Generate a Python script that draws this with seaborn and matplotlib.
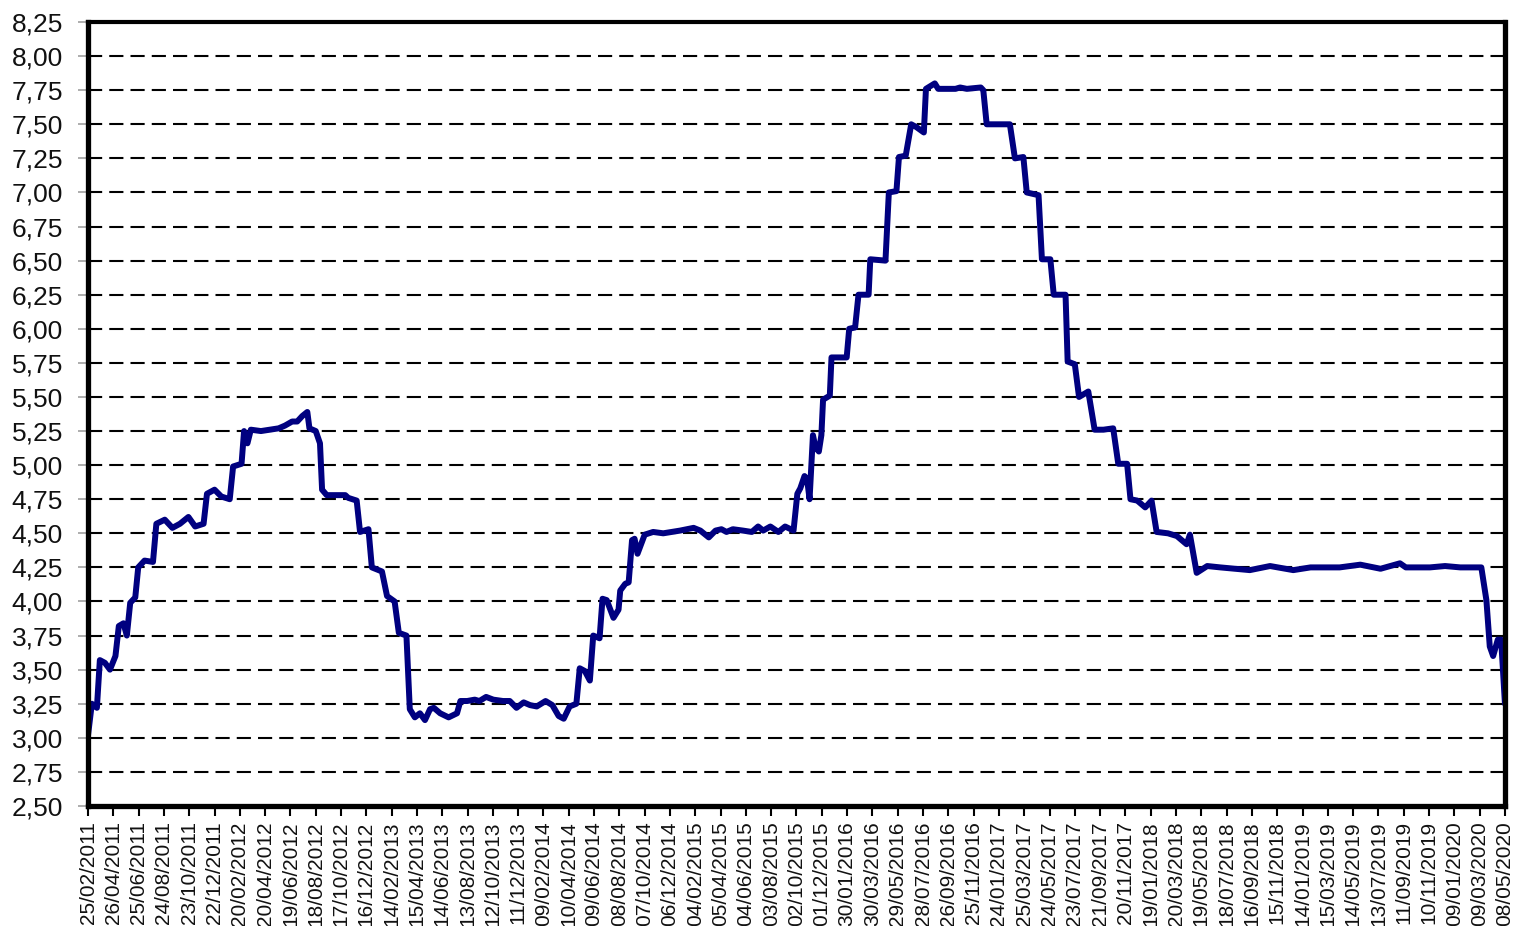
"""Recreate the weekly rate chart, Feb 2011 to May 2020."""

import matplotlib

matplotlib.use("Agg")

import matplotlib.dates as mdates
import matplotlib.pyplot as plt
import pandas as pd
import seaborn as sns
from matplotlib.ticker import FuncFormatter, MultipleLocator

# values
dates = [
    "2011-02-25", "2011-03-06", "2011-03-18", "2011-03-25", "2011-04-06", "2011-04-18",
    "2011-05-01", "2011-05-09", "2011-05-20", "2011-05-28", "2011-06-05", "2011-06-17",
    "2011-06-24", "2011-07-09", "2011-07-29", "2011-08-06", "2011-08-26", "2011-09-13",
    "2011-10-01", "2011-10-21", "2011-11-06", "2011-11-26", "2011-12-04", "2011-12-22",
    "2012-01-07", "2012-01-27", "2012-02-04", "2012-02-24", "2012-03-01", "2012-03-09",
    "2012-03-17", "2012-04-10", "2012-05-22", "2012-06-06", "2012-06-23", "2012-07-05",
    "2012-07-17", "2012-07-29", "2012-08-03", "2012-08-18", "2012-08-28", "2012-09-02",
    "2012-09-13", "2012-10-10", "2012-10-27", "2012-11-03", "2012-11-23", "2012-12-01",
    "2012-12-21", "2012-12-29", "2013-01-22", "2013-02-03", "2013-02-21", "2013-03-03",
    "2013-03-21", "2013-03-29", "2013-04-10", "2013-04-22", "2013-05-04", "2013-05-16",
    "2013-05-25", "2013-06-09", "2013-06-29", "2013-07-19", "2013-07-27", "2013-08-12",
    "2013-08-30", "2013-09-10", "2013-09-26", "2013-10-13", "2013-11-05", "2013-11-21",
    "2013-12-07", "2013-12-24", "2014-01-08", "2014-01-24", "2014-02-14", "2014-03-02",
    "2014-03-17", "2014-03-29", "2014-04-12", "2014-04-28", "2014-05-06", "2014-05-18",
    "2014-05-30", "2014-06-07", "2014-06-22", "2014-06-29", "2014-07-09", "2014-07-25",
    "2014-08-06", "2014-08-10", "2014-08-22", "2014-08-30", "2014-09-07", "2014-09-13",
    "2014-09-20", "2014-10-07", "2014-10-27", "2014-11-20", "2014-12-30", "2015-01-31",
    "2015-02-16", "2015-03-08", "2015-03-24", "2015-04-07", "2015-04-19", "2015-05-04",
    "2015-05-28", "2015-06-18", "2015-07-03", "2015-07-15", "2015-08-01", "2015-08-20",
    "2015-09-05", "2015-09-25", "2015-10-04", "2015-10-11", "2015-10-21", "2015-10-27",
    "2015-11-02", "2015-11-10", "2015-11-16", "2015-11-24", "2015-11-30", "2015-12-04",
    "2015-12-20", "2015-12-24", "2016-01-29", "2016-02-04", "2016-02-18", "2016-02-26",
    "2016-03-21", "2016-03-25", "2016-04-30", "2016-05-08", "2016-05-26", "2016-06-01",
    "2016-06-17", "2016-06-30", "2016-07-12", "2016-07-30", "2016-08-04", "2016-08-25",
    "2016-09-02", "2016-10-13", "2016-10-24", "2016-11-09", "2016-12-12", "2016-12-18",
    "2016-12-26", "2017-01-26", "2017-02-19", "2017-03-03", "2017-03-23", "2017-03-31",
    "2017-04-28", "2017-05-06", "2017-05-26", "2017-06-03", "2017-07-01", "2017-07-06",
    "2017-07-23", "2017-08-02", "2017-08-24", "2017-09-08", "2017-09-29", "2017-10-22",
    "2017-11-03", "2017-11-24", "2017-12-02", "2017-12-18", "2018-01-06", "2018-01-21",
    "2018-02-02", "2018-03-01", "2018-03-22", "2018-04-14", "2018-04-22", "2018-05-08",
    "2018-06-02", "2018-07-03", "2018-09-11", "2018-10-29", "2018-12-23", "2019-02-02",
    "2019-04-12", "2019-05-31", "2019-07-18", "2019-09-02", "2019-09-16", "2019-11-12",
    "2019-12-18", "2020-01-23", "2020-03-13", "2020-03-25", "2020-04-02", "2020-04-10",
    "2020-04-21", "2020-04-29", "2020-05-08",
]
rates = [
    3.02, 3.25, 3.22, 3.57, 3.55, 3.50,
    3.60, 3.82, 3.84, 3.75, 3.99, 4.03,
    4.25, 4.30, 4.29, 4.57, 4.60, 4.54,
    4.57, 4.62, 4.55, 4.57, 4.79, 4.82,
    4.77, 4.75, 4.99, 5.01, 5.25, 5.16,
    5.26, 5.25, 5.27, 5.29, 5.32, 5.32,
    5.36, 5.39, 5.27, 5.25, 5.16, 4.82,
    4.78, 4.78, 4.78, 4.76, 4.74, 4.51,
    4.53, 4.25, 4.22, 4.04, 4.00, 3.77,
    3.75, 3.21, 3.15, 3.18, 3.13, 3.21,
    3.22, 3.18, 3.15, 3.18, 3.27, 3.27,
    3.28, 3.27, 3.30, 3.28, 3.27, 3.27,
    3.22, 3.26, 3.24, 3.23, 3.27, 3.24,
    3.16, 3.14, 3.23, 3.25, 3.51, 3.49,
    3.42, 3.75, 3.73, 4.02, 4.01, 3.88,
    3.94, 4.08, 4.13, 4.14, 4.45, 4.46,
    4.35, 4.49, 4.51, 4.50, 4.52, 4.54,
    4.52, 4.47, 4.52, 4.53, 4.51, 4.53,
    4.52, 4.51, 4.55, 4.52, 4.55, 4.51,
    4.55, 4.52, 4.79, 4.83, 4.92, 4.90,
    4.75, 5.22, 5.13, 5.10, 5.22, 5.48,
    5.51, 5.79, 5.79, 6.00, 6.01, 6.25,
    6.25, 6.51, 6.50, 7.00, 7.01, 7.26,
    7.27, 7.50, 7.48, 7.44, 7.76, 7.80,
    7.76, 7.76, 7.77, 7.76, 7.77, 7.75,
    7.50, 7.50, 7.50, 7.25, 7.26, 7.00,
    6.98, 6.51, 6.51, 6.25, 6.25, 5.76,
    5.74, 5.50, 5.54, 5.26, 5.26, 5.27,
    5.01, 5.01, 4.75, 4.74, 4.69, 4.74,
    4.51, 4.50, 4.48, 4.42, 4.49, 4.21,
    4.26, 4.25, 4.23, 4.26, 4.23, 4.25,
    4.25, 4.27, 4.24, 4.28, 4.25, 4.25,
    4.26, 4.25, 4.25, 4.01, 3.67, 3.60,
    3.72, 3.72, 3.25,
]

start = pd.Timestamp("2011-02-25")
end = pd.Timestamp("2020-05-08")

df = pd.DataFrame({"date": pd.to_datetime(dates), "rate": rates})

sns.set_style("white")
plt.rcParams["font.family"] = ["Liberation Sans", "DejaVu Sans"]

fig = plt.figure(figsize=(15.18, 9.26), dpi=100)
ax = fig.add_axes([0.058, 0.1296, 0.9334, 0.8466])

sns.lineplot(data=df, x="date", y="rate", color="#000080", linewidth=4.3, ax=ax,
             zorder=3, solid_joinstyle="round", solid_capstyle="round")

ax.set_xlim(start, end)
ax.set_ylim(2.5, 8.25)
ax.yaxis.set_major_locator(MultipleLocator(0.25))
ax.yaxis.set_major_formatter(FuncFormatter(lambda v, _: f"{v:.2f}".replace(".", ",")))

ax.set_xticks(pd.date_range(start, end, freq="60D"))
ax.xaxis.set_major_formatter(mdates.DateFormatter("%d/%m/%Y"))
ax.tick_params(axis="x", rotation=90, labelsize=15, length=7, width=1.5,
               color="black", pad=4, bottom=True, direction="out",
               labelcolor="#111111")
ax.tick_params(axis="y", labelsize=19, length=7, width=1.2, color="#a0a0a0",
               pad=11, left=True, direction="out", labelcolor="#111111")

ax.grid(axis="y", color="black", linewidth=1.5, linestyle=(0, (6.8, 3.4)))
ax.grid(axis="x", visible=False)

for side, spine in ax.spines.items():
    spine.set_color("black")
    spine.set_linewidth(3.0 if side == "top" else 3.8)
    spine.set_zorder(4)

ax.set_xlabel("")
ax.set_ylabel("")

fig.savefig("out.png", dpi=100)
plt.close(fig)
